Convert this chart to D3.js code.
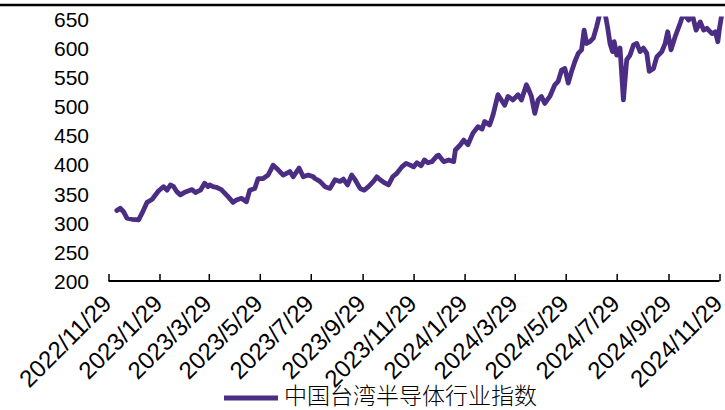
<!DOCTYPE html>
<html><head><meta charset="utf-8">
<script src="https://cdn.jsdelivr.net/npm/d3@7"></script>
<style>
html,body{margin:0;padding:0;background:#fff;}
svg{display:block;}
</style></head>
<body>
<svg id="chart" width="725" height="410"></svg>
<script>
const seriesName = "中国台湾半导体行业指数";
const tickLabels = ["2022/11/29","2023/1/29","2023/3/29","2023/5/29","2023/7/29","2023/9/29","2023/11/29","2024/1/29","2024/3/29","2024/5/29","2024/7/29","2024/9/29","2024/11/29"];
const yTicks = [200,250,300,350,400,450,500,550,600,650];
const dates = ["2022-12-09","2022-12-13","2022-12-17","2022-12-21","2022-12-27","2023-01-04","2023-01-08","2023-01-14","2023-01-20","2023-01-28","2023-02-03","2023-02-07","2023-02-11","2023-02-15","2023-02-19","2023-02-23","2023-03-01","2023-03-09","2023-03-13","2023-03-19","2023-03-24","2023-03-28","2023-03-30","2023-04-03","2023-04-07","2023-04-13","2023-04-17","2023-04-21","2023-04-27","2023-05-01","2023-05-07","2023-05-13","2023-05-17","2023-05-23","2023-05-27","2023-06-02","2023-06-08","2023-06-14","2023-06-20","2023-06-26","2023-07-04","2023-07-08","2023-07-15","2023-07-20","2023-07-26","2023-08-01","2023-08-03","2023-08-09","2023-08-15","2023-08-21","2023-08-27","2023-09-02","2023-09-06","2023-09-11","2023-09-16","2023-09-20","2023-09-26","2023-10-01","2023-10-06","2023-10-12","2023-10-16","2023-10-20","2023-10-26","2023-10-30","2023-11-04","2023-11-09","2023-11-15","2023-11-20","2023-11-25","2023-11-29","2023-12-03","2023-12-08","2023-12-12","2023-12-16","2023-12-21","2023-12-27","2023-12-29","2024-01-04","2024-01-10","2024-01-16","2024-01-18","2024-01-24","2024-01-28","2024-02-02","2024-02-08","2024-02-14","2024-02-19","2024-02-22","2024-02-28","2024-03-03","2024-03-09","2024-03-13","2024-03-17","2024-03-21","2024-03-27","2024-04-02","2024-04-06","2024-04-12","2024-04-14","2024-04-18","2024-04-22","2024-04-26","2024-04-30","2024-05-04","2024-05-10","2024-05-16","2024-05-20","2024-05-24","2024-05-28","2024-06-01","2024-06-05","2024-06-09","2024-06-13","2024-06-17","2024-06-20","2024-06-23","2024-06-27","2024-07-01","2024-07-05","2024-07-09","2024-07-15","2024-07-18","2024-07-21","2024-07-24","2024-07-26","2024-07-29","2024-08-02","2024-08-06","2024-08-10","2024-08-14","2024-08-18","2024-08-22","2024-08-26","2024-08-30","2024-09-03","2024-09-06","2024-09-11","2024-09-15","2024-09-21","2024-09-25","2024-09-28","2024-10-02","2024-10-07","2024-10-13","2024-10-17","2024-10-23","2024-10-27","2024-11-01","2024-11-06","2024-11-10","2024-11-14","2024-11-20","2024-11-24","2024-11-27","2024-11-29","2024-12-02"];
const values = [321,325,319,308,306,305,316,335,340,355,362,356,365,362,353,348,353,357,352,356,368,362,365,362,361,357,351,345,335,339,342,336,356,359,376,376,382,399,391,382,388,379,394,379,382,379,376,371,362,359,374,371,375,365,382,374,359,356,362,371,379,374,368,365,379,385,396,402,399,396,403,398,408,403,405,415,416,405,408,405,425,434,442,434,454,465,461,474,468,485,520,511,502,517,511,520,511,537,531,517,488,511,517,505,517,537,543,562,565,540,560,577,591,597,631,608,611,617,637,660,660,637,608,594,611,588,600,511,580,588,605,608,594,600,591,560,565,585,594,608,628,597,620,643,660,648,660,631,645,631,634,625,628,611,634,660];

const parse = d3.timeParse("%Y-%m-%d");
const parseTick = d3.timeParse("%Y/%m/%d");
const data = dates.map((d,i)=>({date:parse(d), value:values[i]}));

const svg = d3.select("#chart");
const x0 = 108.5, x1 = 719.5, yTop = 19, yBot = 281;
const x = d3.scaleTime().domain([parseTick(tickLabels[0]), parseTick(tickLabels[tickLabels.length-1])]).range([x0, x1]);
const y = d3.scaleLinear().domain([200,650]).range([yBot, yTop]);

// top border
svg.append("line").attr("x1",0).attr("x2",725).attr("y1",5).attr("y2",5)
  .attr("stroke","#000").attr("stroke-width",2.5);

svg.append("clipPath").attr("id","clip").append("rect")
  .attr("x",0).attr("y",y(650)-2.4).attr("width",725).attr("height",yBot-y(650)+2.4);

// y labels
const yAxis = d3.axisLeft(y).tickValues(yTicks).tickSize(0).tickPadding(0);
const gy = svg.append("g").attr("transform","translate(89,0)").call(yAxis);
gy.select(".domain").remove();
gy.selectAll("text").attr("font-family","'Liberation Sans', Arial, sans-serif")
  .attr("font-size",21).attr("fill","#000").attr("dy","0.35em");

// x axis
const xAxis = d3.axisBottom(x).tickValues(tickLabels.map(parseTick)).tickSize(-7).tickFormat((d,i)=>tickLabels[i]);
const gx = svg.append("g").attr("transform",`translate(0,${yBot})`).call(xAxis);
gx.select(".domain").attr("stroke","#000").attr("stroke-width",2).attr("d",`M${x0},0H${x1}`);
gx.selectAll(".tick line").attr("stroke","#000").attr("stroke-width",1.5);
gx.selectAll(".tick text")
  .attr("font-family","'Liberation Sans', Arial, sans-serif")
  .attr("font-size",24).attr("fill","#000")
  .attr("text-anchor","end").attr("dy",null).attr("y",0)
  .attr("transform","translate(4,24) rotate(-45)");

// line
const line = d3.line().x(d=>x(d.date)).y(d=>y(d.value)).curve(d3.curveLinear);
svg.append("path").datum(data).attr("clip-path","url(#clip)")
  .attr("fill","none").attr("stroke","#4B2D84").attr("stroke-width",4.8)
  .attr("stroke-linejoin","round").attr("stroke-linecap","round").attr("d",line);

// legend
svg.append("line").attr("x1",224).attr("x2",278).attr("y1",398).attr("y2",398)
  .attr("stroke","#4B2D84").attr("stroke-width",5);
svg.append("text").attr("x",284).attr("y",404).text(seriesName)
  .attr("font-family","'Noto Sans CJK SC', sans-serif").attr("font-size",23).attr("font-weight",300).attr("fill","#000");
</script>
</body></html>
